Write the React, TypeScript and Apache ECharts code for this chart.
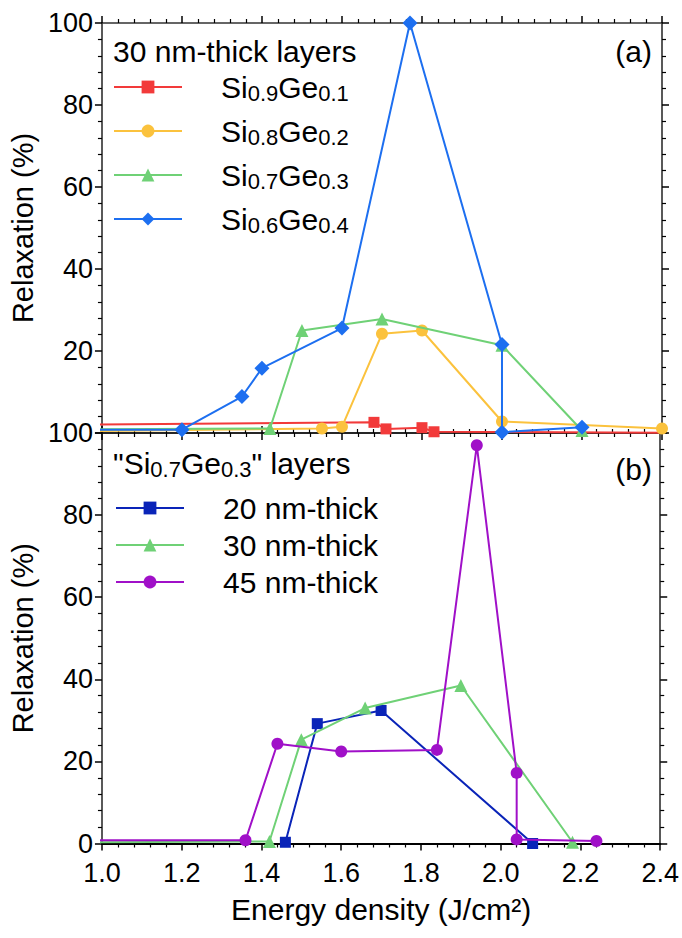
import React, { useEffect, useRef } from "react";
import * as echarts from "echarts";

const FONT = "'Liberation Sans', Arial, sans-serif";

// X range / ticks
const xMin = 1.0;
const xMax = 2.4;
const xStep = 0.2;
const yMin = 0;
const yMax = 100;
const yStep = 20;

// (a) 30 nm-thick layers
const topNames = ["Si0.9Ge0.1", "Si0.8Ge0.2", "Si0.7Ge0.3", "Si0.6Ge0.4"];
const si09ge01 = [[0.8, 1.9], [1.68, 2.6], [1.71, 1.0], [1.80, 1.3], [1.83, 0.3], [2.6, 0]];
const si08ge02 = [[0.8, 0.3], [1.55, 1.1], [1.60, 1.5], [1.70, 24.2], [1.80, 25.0], [2.00, 2.8], [2.40, 1.1]];
const si07ge03 = [[0.8, 0.8], [1.42, 1.1], [1.50, 25.0], [1.70, 27.8], [2.00, 21.4], [2.20, 0.6]];
const si06ge04 = [[0.8, 0.8], [1.20, 0.8], [1.35, 8.9], [1.40, 15.8], [1.60, 25.6], [1.77, 100], [2.00, 21.6], [2.00, 0.2], [2.20, 1.4]];

// (b) "Si0.7Ge0.3" layers
const bottomNames = ["20 nm-thick", "30 nm-thick", "45 nm-thick"];
const nm20 = [[1.46, 0.3], [1.54, 29.2], [1.70, 32.4], [2.08, 0]];
const nm30 = [[0.8, 0.2], [1.42, 0.5], [1.50, 25.3], [1.66, 33.0], [1.90, 38.5], [2.18, 0.3]];
const nm45 = [[0.8, 0.8], [1.36, 0.8], [1.44, 24.3], [1.60, 22.4], [1.84, 22.8], [1.94, 97.0], [2.04, 17.2], [2.04, 1.0], [2.24, 0.6]];

const topColors = ["#f23a3a", "#fbc23d", "#6fd176", "#1d6ff0"];
const topSymbols = ["rect", "circle", "triangle", "diamond"];
const topSizes = [11, 12, 13, 15];
const bottomColors = ["#0a24b8", "#6fd176", "#a010c8"];
const bottomSymbols = ["rect", "triangle", "circle"];
const bottomSizes = [11, 13, 12];

const MAIN = 30;
const SUB = 22;

function subFormat(name: string) {
  const m = /^Si([\d.]+)Ge([\d.]+)$/.exec(name);
  if (!m) return name;
  return `{p| }{a|Si}{b|${m[1]}}{a|Ge}{b|${m[2]}}`;
}

function xAxisDef(gridIndex: number, position: string, labels: boolean, name?: string) {
  return {
    type: "value",
    gridIndex,
    position,
    min: xMin,
    max: xMax,
    interval: xStep,
    name: name || "",
    nameLocation: "middle",
    nameGap: 51,
    nameTextStyle: { fontFamily: FONT, fontSize: MAIN, color: "#000" },
    axisLine: { show: true, onZero: false, lineStyle: { color: position === "bottom" ? "#000" : "#333", width: position === "bottom" ? 2 : 1.5 } },
    axisTick: { show: true, inside: false, length: 7, lineStyle: { color: "#000", width: 1.5 } },
    minorTick: { show: true, splitNumber: 5, length: 4, lineStyle: { color: "#000", width: 1.2 } },
    splitLine: { show: false },
    minorSplitLine: { show: false },
    axisLabel: {
      show: labels,
      margin: 16,
      fontFamily: FONT,
      fontSize: 27,
      color: "#000",
      formatter: (v: number) => v.toFixed(1),
    },
  };
}

function yAxisDef(gridIndex: number, position: string, labels: boolean, hideMin: boolean) {
  return {
    type: "value",
    gridIndex,
    position,
    min: yMin,
    max: yMax,
    interval: yStep,
    name: labels ? "Relaxation (%)" : "",
    nameLocation: "middle",
    nameGap: 52,
    nameTextStyle: { fontFamily: FONT, fontSize: 29, color: "#000" },
    axisLine: { show: true, onZero: false, lineStyle: { color: "#222", width: 1.5 } },
    axisTick: { show: true, inside: false, length: 7, lineStyle: { color: "#000", width: 1.5 } },
    minorTick: { show: true, splitNumber: 5, length: 4, lineStyle: { color: "#000", width: 1.2 } },
    splitLine: { show: false },
    minorSplitLine: { show: false },
    axisLabel: {
      show: labels,
      margin: 9,
      showMinLabel: !hideMin,
      fontFamily: FONT,
      fontSize: 27,
      color: "#000",
    },
  };
}

export default function App() {
  const ref = useRef<HTMLDivElement>(null);

  useEffect(() => {
    document.body.style.margin = "0";
    if (!ref.current) return;
    const chart = echarts.init(ref.current, undefined, { renderer: "svg" });

    const topData = [si09ge01, si08ge02, si07ge03, si06ge04];
    const bottomData = [nm20, nm30, nm45];

    const series: any[] = [];
    topNames.forEach((name, i) => {
      series.push({
        type: "line",
        name,
        xAxisIndex: 0,
        yAxisIndex: 0,
        data: topData[i],
        symbol: topSymbols[i],
        symbolSize: topSizes[i],
        showAllSymbol: true,
        clip: true,
        lineStyle: { color: topColors[i], width: 2 },
        itemStyle: { color: topColors[i] },
        z: 2 + i,
      });
    });
    bottomNames.forEach((name, i) => {
      series.push({
        type: "line",
        name,
        xAxisIndex: 2,
        yAxisIndex: 2,
        data: bottomData[i],
        symbol: bottomSymbols[i],
        symbolSize: bottomSizes[i],
        showAllSymbol: true,
        clip: true,
        lineStyle: { color: bottomColors[i], width: 2 },
        itemStyle: { color: bottomColors[i] },
        z: 2 + i,
      });
    });

    const richSub = {
      p: { width: 34 },
      a: { fontFamily: FONT, fontSize: MAIN, lineHeight: 34, color: "#000" },
      b: { fontFamily: FONT, fontSize: SUB, lineHeight: 16, verticalAlign: "bottom", color: "#000" },
    };

    const option: any = {
      animation: false,
      backgroundColor: "#fff",
      textStyle: { fontFamily: FONT },
      grid: [
        { left: 101, right: 20, top: 23, height: 410 },
        { left: 101, right: 20, top: 433, height: 410.5 },
      ],
      xAxis: [
        xAxisDef(0, "bottom", false),
        xAxisDef(0, "top", false),
        xAxisDef(1, "bottom", true, "Energy density (J/cm²)"),
        xAxisDef(1, "top", false),
      ],
      yAxis: [
        yAxisDef(0, "left", true, true),
        yAxisDef(0, "right", false, false),
        yAxisDef(1, "left", true, false),
        yAxisDef(1, "right", false, false),
      ],
      title: [
        {
          text: "30 nm-thick layers",
          left: 108,
          top: 31,
          textStyle: { fontFamily: FONT, fontSize: MAIN, fontWeight: "normal", color: "#000" },
        },
        {
          text: "(a)",
          right: 25,
          top: 31,
          textStyle: { fontFamily: FONT, fontSize: MAIN, fontWeight: "normal", color: "#000" },
        },
        {
          text: '{a|"Si}{b|0.7}{a|Ge}{b|0.3}{a|" layers}',
          left: 108,
          top: 441,
          textStyle: {
            fontFamily: FONT,
            fontWeight: "normal",
            color: "#000",
            rich: richSub,
          },
        },
        {
          text: "(b)",
          right: 25,
          top: 449,
          textStyle: { fontFamily: FONT, fontSize: MAIN, fontWeight: "normal", color: "#000" },
        },
      ],
      legend: [
        {
          data: topNames,
          orient: "vertical",
          left: 108,
          top: 67,
          itemWidth: 68,
          itemHeight: 16,
          itemGap: 12,
          selectedMode: false,
          formatter: subFormat,
          textStyle: {
            fontFamily: FONT,
            color: "#000",
            rich: richSub,
          },
        },
        {
          data: bottomNames,
          orient: "vertical",
          left: 110,
          top: 488,
          itemWidth: 68,
          itemHeight: 16,
          itemGap: 7,
          selectedMode: false,
          formatter: (n: string) => `{p| }{a|${n}}`,
          textStyle: {
            fontFamily: FONT,
            color: "#000",
            rich: {
              p: { width: 34 },
              a: { fontFamily: FONT, fontSize: MAIN, lineHeight: 32, color: "#000" },
            },
          },
        },
      ],
      series,
    };

    chart.setOption(option);
    return () => chart.dispose();
  }, []);

  return <div ref={ref} style={{ width: 682, height: 938 }} />;
}
